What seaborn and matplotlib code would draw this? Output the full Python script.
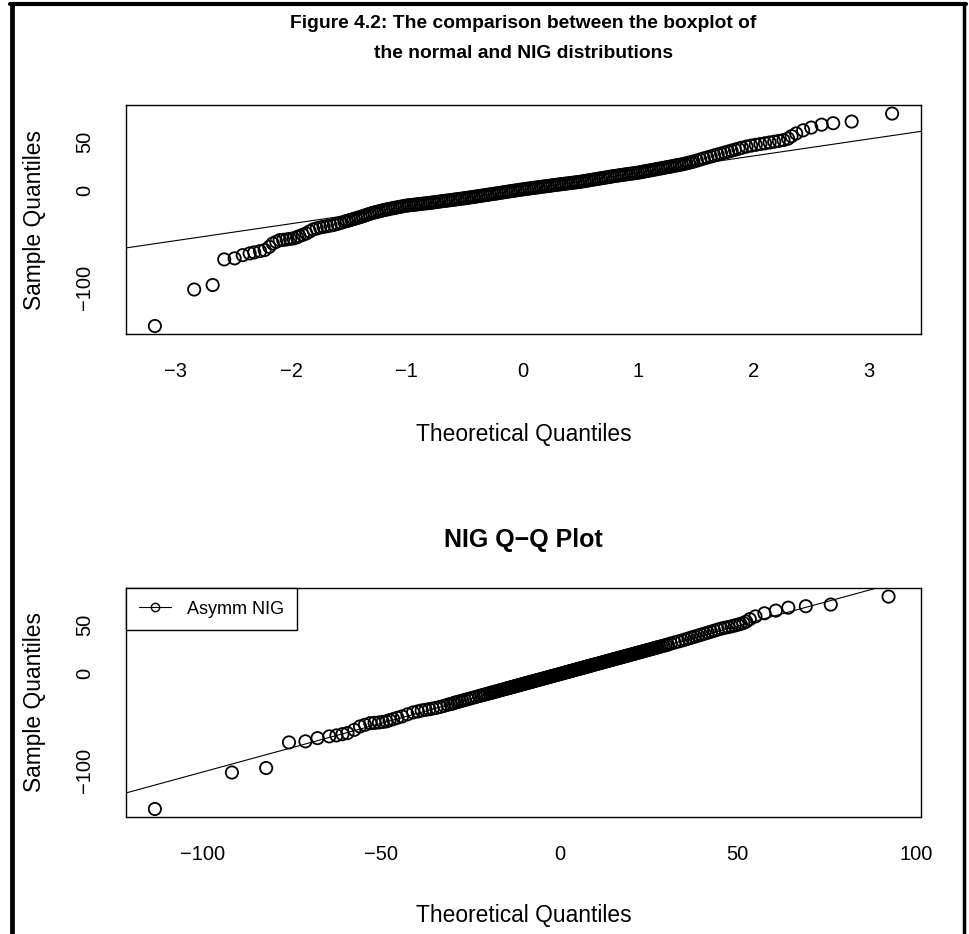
import warnings
warnings.filterwarnings("ignore")

import matplotlib
matplotlib.use("Agg")
import pandas as pd
import matplotlib.pyplot as plt
from matplotlib.lines import Line2D
import seaborn as sns

# theoretical normal quantiles (x of the top panel)
norm_q = [
    -3.18, -2.84, -2.68, -2.58, -2.49, -2.42, -2.36, -2.32, -2.27, -2.23,
    -2.19, -2.16, -2.13, -2.10, -2.07, -2.04, -2.01, -1.98, -1.95, -1.93,
    -1.90, -1.87, -1.84, -1.81, -1.78, -1.75, -1.72, -1.69, -1.66, -1.63,
    -1.60, -1.57, -1.54, -1.52, -1.50,
    -1.48, -1.46, -1.44, -1.42, -1.40, -1.38, -1.36, -1.34, -1.32, -1.30,
    -1.28, -1.26, -1.24, -1.22, -1.20, -1.18, -1.16, -1.14, -1.12, -1.10,
    -1.08, -1.06, -1.04, -1.02, -1.00, -0.98, -0.96, -0.94, -0.92, -0.90,
    -0.88, -0.86, -0.84, -0.82, -0.80, -0.78, -0.76, -0.74, -0.72, -0.70,
    -0.68, -0.66, -0.64, -0.62, -0.60, -0.58, -0.56, -0.54, -0.52, -0.50,
    -0.48, -0.46, -0.44, -0.42, -0.40, -0.38, -0.36, -0.34, -0.32, -0.30,
    -0.28, -0.26, -0.24, -0.22, -0.20, -0.18, -0.16, -0.14, -0.12, -0.10,
    -0.08, -0.06, -0.04, -0.02, 0.00, 0.02, 0.04, 0.06, 0.08, 0.10,
    0.12, 0.14, 0.16, 0.18, 0.20, 0.22, 0.24, 0.26, 0.28, 0.30,
    0.32, 0.34, 0.36, 0.38, 0.40, 0.42, 0.44, 0.46, 0.48, 0.50,
    0.52, 0.54, 0.56, 0.58, 0.60, 0.62, 0.64, 0.66, 0.68, 0.70,
    0.72, 0.74, 0.76, 0.78, 0.80, 0.82, 0.84, 0.86, 0.88, 0.90,
    0.92, 0.94, 0.96, 0.98, 1.00, 1.02, 1.04, 1.06, 1.08, 1.10,
    1.12, 1.14, 1.16, 1.18, 1.20, 1.22, 1.24, 1.26, 1.28, 1.30,
    1.32, 1.34, 1.36, 1.38, 1.40, 1.42, 1.44, 1.46, 1.48,
    1.51, 1.54, 1.57, 1.60, 1.63, 1.66, 1.69, 1.72, 1.75, 1.78,
    1.81, 1.84, 1.87, 1.90, 1.94, 1.98, 2.02, 2.06, 2.10, 2.14,
    2.18, 2.22, 2.26, 2.30, 2.33, 2.37, 2.43, 2.50, 2.59, 2.69,
    2.85, 3.20,
]

# sample quantiles (y of both panels)
sample_q = [
    -139.5, -102.0, -97.4, -71.1, -70.0, -66.7, -64.9, -63.9, -62.6, -61.5,
    -58.2, -54.7, -53.0, -51.3, -51.0, -50.6, -50.0, -49.5, -48.3, -47.2,
    -45.8, -44.4, -42.3, -40.3, -39.3, -38.3, -37.6, -37.0, -36.3, -35.6,
    -34.6, -33.5, -32.4, -31.7, -31.0,
    -30.3, -29.6, -28.9, -28.2, -27.5, -26.7, -25.9, -25.1, -24.3, -23.5,
    -22.9, -22.3, -21.7, -21.1, -20.5, -20.0, -19.5, -19.0, -18.5, -18.0,
    -17.6, -17.1, -16.7, -16.2, -15.8, -15.5, -15.2, -15.0, -14.7, -14.4,
    -14.1, -13.8, -13.6, -13.3, -13.0, -12.7, -12.4, -12.1, -11.7, -11.4,
    -11.1, -10.8, -10.5, -10.2, -9.9, -9.5, -9.2, -8.9, -8.6, -8.3,
    -7.9, -7.6, -7.2, -6.9, -6.5, -6.1, -5.8, -5.4, -5.0, -4.7,
    -4.3, -4.0, -3.6, -3.3, -2.9, -2.5, -2.1, -1.8, -1.4, -1.0,
    -0.7, -0.3, 0.1, 0.4, 0.8, 1.1, 1.4, 1.8, 2.1, 2.4,
    2.7, 3.0, 3.4, 3.7, 4.0, 4.3, 4.6, 5.0, 5.3, 5.6,
    5.9, 6.2, 6.5, 6.8, 7.1, 7.4, 7.7, 8.0, 8.3, 8.6,
    9.0, 9.4, 9.8, 10.2, 10.6, 11.0, 11.4, 11.8, 12.2, 12.6,
    13.0, 13.4, 13.8, 14.2, 14.6, 14.9, 15.3, 15.6, 16.0, 16.3,
    16.6, 17.0, 17.3, 17.7, 18.0, 18.4, 18.9, 19.3, 19.8, 20.2,
    20.6, 21.1, 21.5, 22.0, 22.4, 22.9, 23.3, 23.8, 24.2, 24.7,
    25.2, 25.6, 26.1, 26.5, 27.0, 27.6, 28.2, 28.8, 29.4,
    30.4, 31.5, 32.6, 33.6, 34.6, 35.6, 36.6, 37.6, 38.6, 39.6,
    40.6, 41.6, 42.6, 43.6, 44.8, 45.8, 46.6, 47.4, 48.2, 49.0,
    49.8, 50.6, 51.5, 53.0, 55.5, 58.3, 61.5, 64.3, 67.3, 68.8,
    70.5, 78.7,
]

# theoretical NIG quantiles (x of the bottom panel)
nig_q = [
    -113.4, -91.8, -82.2, -75.8, -71.2, -67.8, -64.5, -62.5, -60.8, -59.4,
    -57.5, -55.9, -54.5, -53.0, -51.8, -50.6, -49.5, -48.5, -47.6, -46.6,
    -45.4, -44.1, -42.6, -41.0, -39.7, -38.6, -37.5, -36.5, -35.5, -34.5,
    -33.4, -32.3, -31.3, -30.5, -29.8,
    -29.3, -28.6, -27.9, -27.2, -26.5, -25.7, -24.9, -24.1, -23.3, -22.5,
    -21.9, -21.3, -20.7, -20.1, -19.5, -19.0, -18.5, -18.0, -17.5, -17.0,
    -16.6, -16.1, -15.7, -15.2, -14.8, -14.5, -14.2, -14.0, -13.7, -13.4,
    -13.1, -12.8, -12.6, -12.3, -12.0, -11.7, -11.4, -11.1, -10.7, -10.4,
    -10.1, -9.8, -9.5, -9.2, -8.9, -8.5, -8.2, -7.9, -7.6, -7.3,
    -6.9, -6.6, -6.2, -5.9, -5.5, -5.1, -4.8, -4.4, -4.0, -3.7,
    -3.3, -3.0, -2.6, -2.3, -1.9, -1.5, -1.1, -0.8, -0.4, 0.0,
    0.3, 0.7, 1.1, 1.4, 1.8, 2.1, 2.4, 2.8, 3.1, 3.4,
    3.7, 4.0, 4.4, 4.7, 5.0, 5.3, 5.6, 6.0, 6.3, 6.6,
    6.9, 7.2, 7.5, 7.8, 8.1, 8.4, 8.7, 9.0, 9.3, 9.6,
    10.0, 10.4, 10.8, 11.2, 11.6, 12.0, 12.4, 12.8, 13.2, 13.6,
    14.0, 14.4, 14.8, 15.2, 15.6, 15.9, 16.3, 16.6, 17.0, 17.3,
    17.6, 18.0, 18.3, 18.7, 19.0, 19.4, 19.9, 20.3, 20.8, 21.2,
    21.6, 22.1, 22.5, 23.0, 23.4, 23.9, 24.3, 24.8, 25.2, 25.7,
    26.2, 26.6, 27.1, 27.5, 28.0, 28.6, 29.2, 29.8, 30.4,
    31.2, 32.3, 33.4, 34.4, 35.3, 36.2, 37.1, 38.0, 38.9, 39.8,
    40.7, 41.6, 42.5, 43.4, 44.4, 45.4, 46.4, 47.4, 48.3, 49.2,
    50.0, 50.8, 51.6, 52.4, 53.4, 55.0, 57.5, 60.7, 64.2, 69.1,
    76.1, 92.3,
]

# reference lines (intercept, slope)
norm_line = (0.4, 17.4)
nig_line = (-1.5, 1.0)

x_ticks_top = [-3, -2, -1, 0, 1, 2, 3]
x_ticks_bottom = [-100, -50, 0, 50, 100]
y_ticks = [-100, -50, 0, 50]
y_tick_labels = ['\u2212100', '', '0', '50']

df = pd.DataFrame({'norm': norm_q, 'sample': sample_q, 'nig': nig_q})

sns.set_style('white')
plt.rcParams['font.family'] = ['Liberation Sans', 'DejaVu Sans']
plt.rcParams['text.color'] = 'black'
plt.rcParams['axes.labelcolor'] = 'black'
plt.rcParams['xtick.color'] = 'black'
plt.rcParams['ytick.color'] = 'black'

W, H = 969, 934
fig = plt.figure(figsize=(W / 100, H / 100), dpi=100)
ax1 = fig.add_axes([126 / W, 1 - 334 / H, 795 / W, 229 / H])
ax2 = fig.add_axes([126 / W, 1 - 817 / H, 795 / W, 229 / H])

tick_fs = 14.5
lab_fs = 16.4


def style_axes(ax, xticks, xlim, xlabel_y):
    ax.set_xlim(*xlim)
    ax.set_ylim(-147.7, 87.5)
    ax.set_xticks(xticks)
    ax.set_xticklabels([str(t).replace('-', '\u2212') for t in xticks])
    ax.set_yticks(y_ticks)
    ax.set_yticklabels(y_tick_labels, rotation=90, va='center')
    ax.tick_params(axis='both', direction='out', length=9, width=1,
                   colors='black', labelsize=tick_fs)
    ax.tick_params(axis='x', pad=11)
    ax.tick_params(axis='y', pad=14)
    for sp in ax.spines.values():
        sp.set_visible(True)
        sp.set_color('black')
        sp.set_linewidth(1.0)
    ax.set_xlabel('Theoretical Quantiles', fontsize=lab_fs, color='black')
    ax.set_ylabel('Sample Quantiles', fontsize=lab_fs, color='black')
    ax.xaxis.set_label_coords(0.5, xlabel_y)
    ax.xaxis.label.set_va('center')
    ax.yaxis.set_label_coords(-0.1145, 0.5)
    ax.yaxis.label.set_va('center')


# top panel: normal Q-Q plot
sns.scatterplot(data=df, x='norm', y='sample', ax=ax1, marker='o', s=78,
                facecolors='none', edgecolor='black', linewidth=1.3)
ax1.axline((0, norm_line[0]), slope=norm_line[1], color='black', lw=0.8)
style_axes(ax1, x_ticks_top, (-3.43, 3.45), -0.441)

# bottom panel: NIG Q-Q plot
sns.scatterplot(data=df, x='nig', y='sample', ax=ax2, marker='o', s=78,
                facecolors='none', edgecolor='black', linewidth=1.3)
ax2.axline((0, nig_line[0]), slope=nig_line[1], color='black', lw=0.8)
style_axes(ax2, x_ticks_bottom, (-121.5, 101.4), -0.428)

handle = Line2D([0], [0], color='black', lw=0.8, marker='o', markersize=6,
                markerfacecolor='none', markeredgecolor='black')
leg = ax2.legend(handles=[handle], labels=['Asymm NIG'], loc='upper left',
                 borderaxespad=0, frameon=True, fancybox=False,
                 fontsize=13, handlelength=1.8, handletextpad=0.9,
                 borderpad=0.7)
leg.get_frame().set_edgecolor('black')
leg.get_frame().set_linewidth(1.0)
leg.get_frame().set_alpha(1)
for t in leg.get_texts():
    t.set_color('black')

cx = 523.5 / W
fig.text(cx, 1 - 23 / H, 'Figure 4.2: The comparison between the boxplot of',
         ha='center', va='center', fontsize=13.9, fontweight='bold')
fig.text(cx, 1 - 53 / H, 'the normal and NIG distributions',
         ha='center', va='center', fontsize=13.9, fontweight='bold')
fig.text(cx, 1 - 540 / H, 'NIG Q\u2212Q Plot',
         ha='center', va='center', fontsize=18, fontweight='bold')

# black frame of the scanned page (left, top, right edges)
fig.add_artist(Line2D([12 / W, 12 / W], [0, 1 - 4 / H], transform=fig.transFigure,
                      color='black', lw=3.4))
fig.add_artist(Line2D([10 / W, 966 / W], [1 - 4 / H, 1 - 4 / H],
                      transform=fig.transFigure, color='black', lw=3.0))
fig.add_artist(Line2D([964 / W, 964 / W], [0, 1 - 4 / H], transform=fig.transFigure,
                      color='black', lw=2.5))

fig.savefig('out.png', dpi=100)
